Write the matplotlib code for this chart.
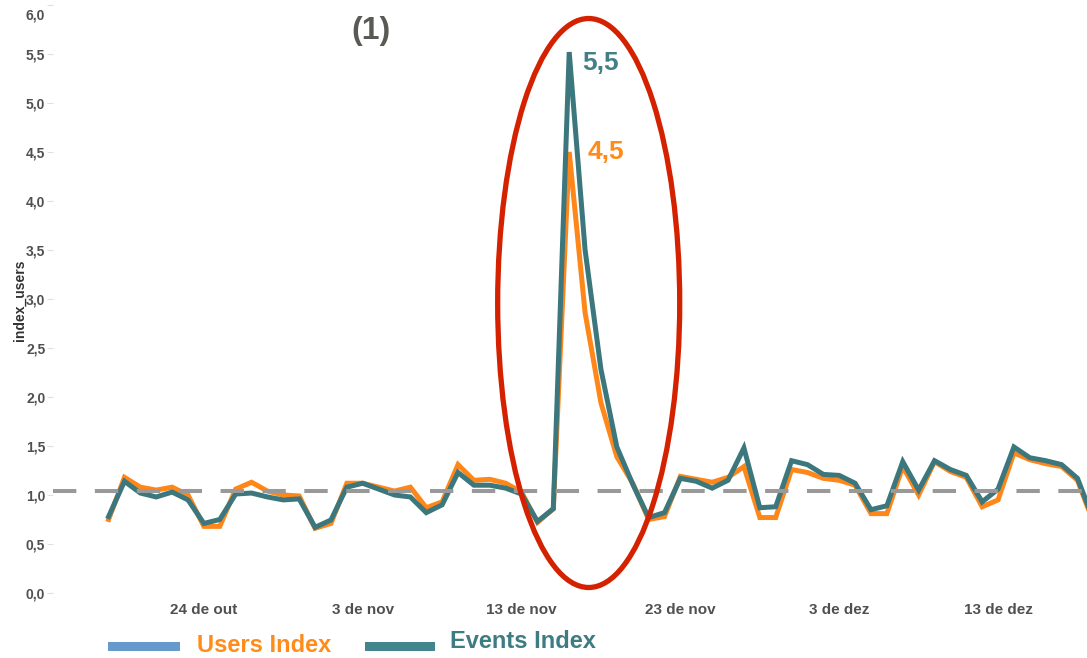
import matplotlib
matplotlib.use("Agg")
import matplotlib.pyplot as plt
import matplotlib.dates as mdates
from matplotlib.patches import Ellipse, Rectangle
from matplotlib.transforms import ScaledTranslation
import numpy as np
import pandas as pd

plt.rcParams['font.family'] = ['Liberation Sans', 'DejaVu Sans']

start_date = "2021-10-18"
users_index = [0.75, 1.18, 1.08, 1.05, 1.08, 1.00, 0.68, 0.68, 1.06, 1.13,
               1.04, 1.00, 0.99, 0.66, 0.71, 1.12, 1.12, 1.08, 1.04, 1.08,
               0.87, 0.93, 1.31, 1.15, 1.16, 1.12, 1.03, 0.72, 0.86, 4.50,
               2.86, 1.94, 1.39, 1.12, 0.75, 0.78, 1.19, 1.16, 1.13, 1.18,
               1.29, 0.77, 0.77, 1.26, 1.23, 1.17, 1.15, 1.10, 0.81, 0.81,
               1.29, 1.00, 1.34, 1.24, 1.18, 0.88, 0.95, 1.43, 1.36, 1.32,
               1.29, 1.15, 0.72]
events_index = [0.78, 1.14, 1.02, 0.98, 1.03, 0.95, 0.71, 0.75, 1.01, 1.02,
                0.98, 0.95, 0.96, 0.67, 0.745, 1.08, 1.12, 1.06, 1.00, 0.98,
                0.82, 0.90, 1.23, 1.10, 1.10, 1.07, 1.01, 0.73, 0.86, 5.52,
                3.50, 2.28, 1.49, 1.11, 0.77, 0.82, 1.17, 1.14, 1.07, 1.15,
                1.48, 0.87, 0.88, 1.35, 1.31, 1.21, 1.20, 1.12, 0.85, 0.89,
                1.34, 1.05, 1.35, 1.26, 1.20, 0.93, 1.06, 1.49, 1.38, 1.35,
                1.31, 1.17, 0.75]
reference_level = 1.04
peak_users_label = "4,5"
peak_events_label = "5,5"

xtick_dates = ["2021-10-24", "2021-11-03", "2021-11-13", "2021-11-23", "2021-12-03", "2021-12-13"]
xtick_labels = ["24 de out", "3 de nov", "13 de nov", "23 de nov", "3 de dez", "13 de dez"]
ytick_values = [0.0, 0.5, 1.0, 1.5, 2.0, 2.5, 3.0, 3.5, 4.0, 4.5, 5.0, 5.5, 6.0]
ytick_labels = ["0,0", "0,5", "1,0", "1,5", "2,0", "2,5", "3,0", "3,5", "4,0", "4,5", "5,0", "5,5", "6,0"]

dates = pd.date_range(start_date, periods=len(users_index), freq="D")
xnum = mdates.date2num(dates.to_pydatetime())

ORANGE = "#ff8618"
TEAL = "#3b777d"
W, H = 1087, 658
fig = plt.figure(figsize=(W / 100, H / 100), dpi=100)
ax = fig.add_axes([53 / W, 65 / H, 1 - 53 / W, (593 - 5) / H])

ax.plot(xnum, users_index, color=ORANGE, lw=3.6, solid_joinstyle='miter', zorder=3)
ax.plot(xnum, events_index, color=TEAL, lw=3.6, solid_joinstyle='miter', zorder=4)
ax.axhline(reference_level, color="#999999", lw=2.9, dashes=(5.8, 4.6), zorder=5)

ax.set_xlim(xnum[0] - 3.5, xnum[0] + 61.6)
ax.set_ylim(0, 6.0)

ax.set_xticks(mdates.date2num(pd.to_datetime(xtick_dates).to_pydatetime()))
ax.set_xticklabels(xtick_labels)
ax.set_yticks(ytick_values)
ax.set_yticklabels(ytick_labels)
ax.tick_params(axis='x', length=0, pad=7, labelsize=11, labelcolor="#505050")
ax.tick_params(axis='y', length=4, width=0.8, color="#e0e0e0", pad=1.5, labelsize=10, labelcolor="#505050")
for lbl in ax.get_xticklabels() + ax.get_yticklabels():
    lbl.set_fontweight('bold')
top = ax.get_yticklabels()[-1]
top.set_transform(top.get_transform() + ScaledTranslation(0, -9 / 100, fig.dpi_scale_trans))

for s in ax.spines.values():
    s.set_visible(False)

ax.set_ylabel("index_users", fontsize=10, fontweight='bold', color="#333333")
ax.yaxis.set_label_coords(-26 / (W - 53), (593 - 300) / 588)

# annotations of peaks
ipk = int(np.argmax(events_index))
ax.annotate(peak_events_label, (xnum[ipk], events_index[ipk]), xytext=(13, -11),
            textcoords='offset pixels', ha='left', va='center', fontsize=19,
            fontweight='bold', color="#437f86", zorder=6)
ax.annotate(peak_users_label, (xnum[ipk], users_index[ipk]), xytext=(18, 0),
            textcoords='offset pixels', ha='left', va='center', fontsize=19,
            fontweight='bold', color="#ff8c1a", zorder=6)

# red ellipse highlight
ell = Ellipse((xnum[0] + (589 - 109) / 15.88, (593 - 303) / 98), width=182 / 15.88,
              height=569 / 98, fill=False, edgecolor="#d42200", lw=3.8, zorder=7, clip_on=False)
ax.add_patch(ell)

fig.text(371 / W, 1 - 31 / H, "(1)", fontsize=23, fontweight='bold', color="#5a5a55",
         ha='center', va='center')

# legend
fig.patches.append(Rectangle((108 / W, 1 - 651 / H), 72 / W, 9 / H, transform=fig.transFigure,
                             facecolor="#6699cc", edgecolor='none'))
fig.text(197 / W, 1 - 646 / H, "Users Index", fontsize=17, fontweight='bold', color="#ff8c1a",
         ha='left', va='center')
fig.patches.append(Rectangle((365 / W, 1 - 651 / H), 70 / W, 9 / H, transform=fig.transFigure,
                             facecolor="#44858b", edgecolor='none'))
fig.text(450 / W, 1 - 641 / H, "Events Index", fontsize=17, fontweight='bold', color="#3d7c82",
         ha='left', va='center')

fig.savefig("out.png", dpi=100)
